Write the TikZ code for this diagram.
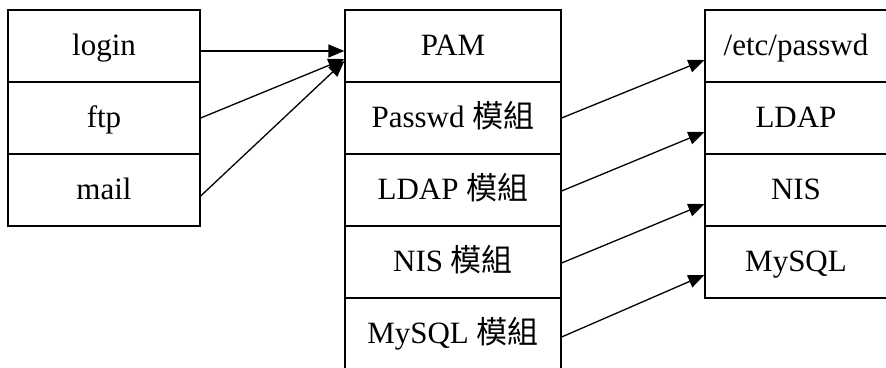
\documentclass[tikz,border=0pt]{standalone}
\usepackage{fontspec}
\setmainfont{Liberation Serif}
\newfontfamily\cjk{Noto Sans CJK TC}
\usetikzlibrary{arrows.meta}

\begin{document}
\begin{tikzpicture}[x=1pt,y=-1pt,
  cell/.style={draw, line width=1.3pt, rectangle, inner sep=0pt,
    minimum height=72pt, text height=21pt, text depth=3pt,
    font=\fontsize{31}{36}\selectfont},
  lcell/.style={cell, minimum width=192pt},
  mcell/.style={cell, minimum width=216pt},
  rcell/.style={cell, minimum width=200pt},
  label/.style={inner sep=0pt, text height=21pt, text depth=3pt,
    font=\fontsize{31}{36}\selectfont},
  link/.style={line width=1.3pt, -{Triangle[length=16pt,width=13pt]}}]
  \useasboundingbox (0,0) rectangle (886,367);
  \fill[white] (0,0) rectangle (886,367);
  \clip (0,0) rectangle (886,367);

  % services
  \node[lcell] (login) at (104,46)  {login};
  \node[lcell] (ftp)   at (104,118) {ftp};
  \node[lcell] (mail)  at (104,190) {mail};

  % PAM and its modules
  \node[mcell] (pam)    at (453,46)  {PAM};
  \node[mcell] (mpass)  at (453,118) {Passwd {\cjk 模組}};
  \node[mcell] (mldap)  at (453,190) {LDAP {\cjk 模組}};
  \node[mcell] (mnis)   at (453,262) {NIS {\cjk 模組}};
  \node[mcell] (mmysql) at (453,334) {MySQL {\cjk 模組}};

  % back ends
  \node[rcell] (passwd) at (805,46)  {};
  \node[rcell] (ldap)   at (805,118) {};
  \node[rcell] (nis)    at (805,190) {};
  \node[rcell] (mysql)  at (805,262) {};
  \node[label] at (796,46)  {/etc/passwd};
  \node[label] at (796,118) {LDAP};
  \node[label] at (796,190) {NIS};
  \node[label] at (796,262) {MySQL};

  % services to PAM
  \draw[link] ([yshift=-5pt]login.east) -- ([yshift=-5pt]pam.west);
  \draw[link] (ftp.east) -- ([yshift=-13pt]pam.west);
  \draw[link] ([yshift=-6pt]mail.east) -- ([yshift=-15pt]pam.west);

  % modules to back ends
  \draw[link] (mpass.east)  -- ([yshift=-14pt]passwd.west);
  \draw[link] ([yshift=-1pt]mldap.east)  -- ([yshift=-14pt]ldap.west);
  \draw[link] ([yshift=-1pt]mnis.east)   -- ([yshift=-14pt]nis.west);
  \draw[link] ([yshift=-3pt]mmysql.east) -- ([yshift=-13pt]mysql.west);
\end{tikzpicture}
\end{document}
